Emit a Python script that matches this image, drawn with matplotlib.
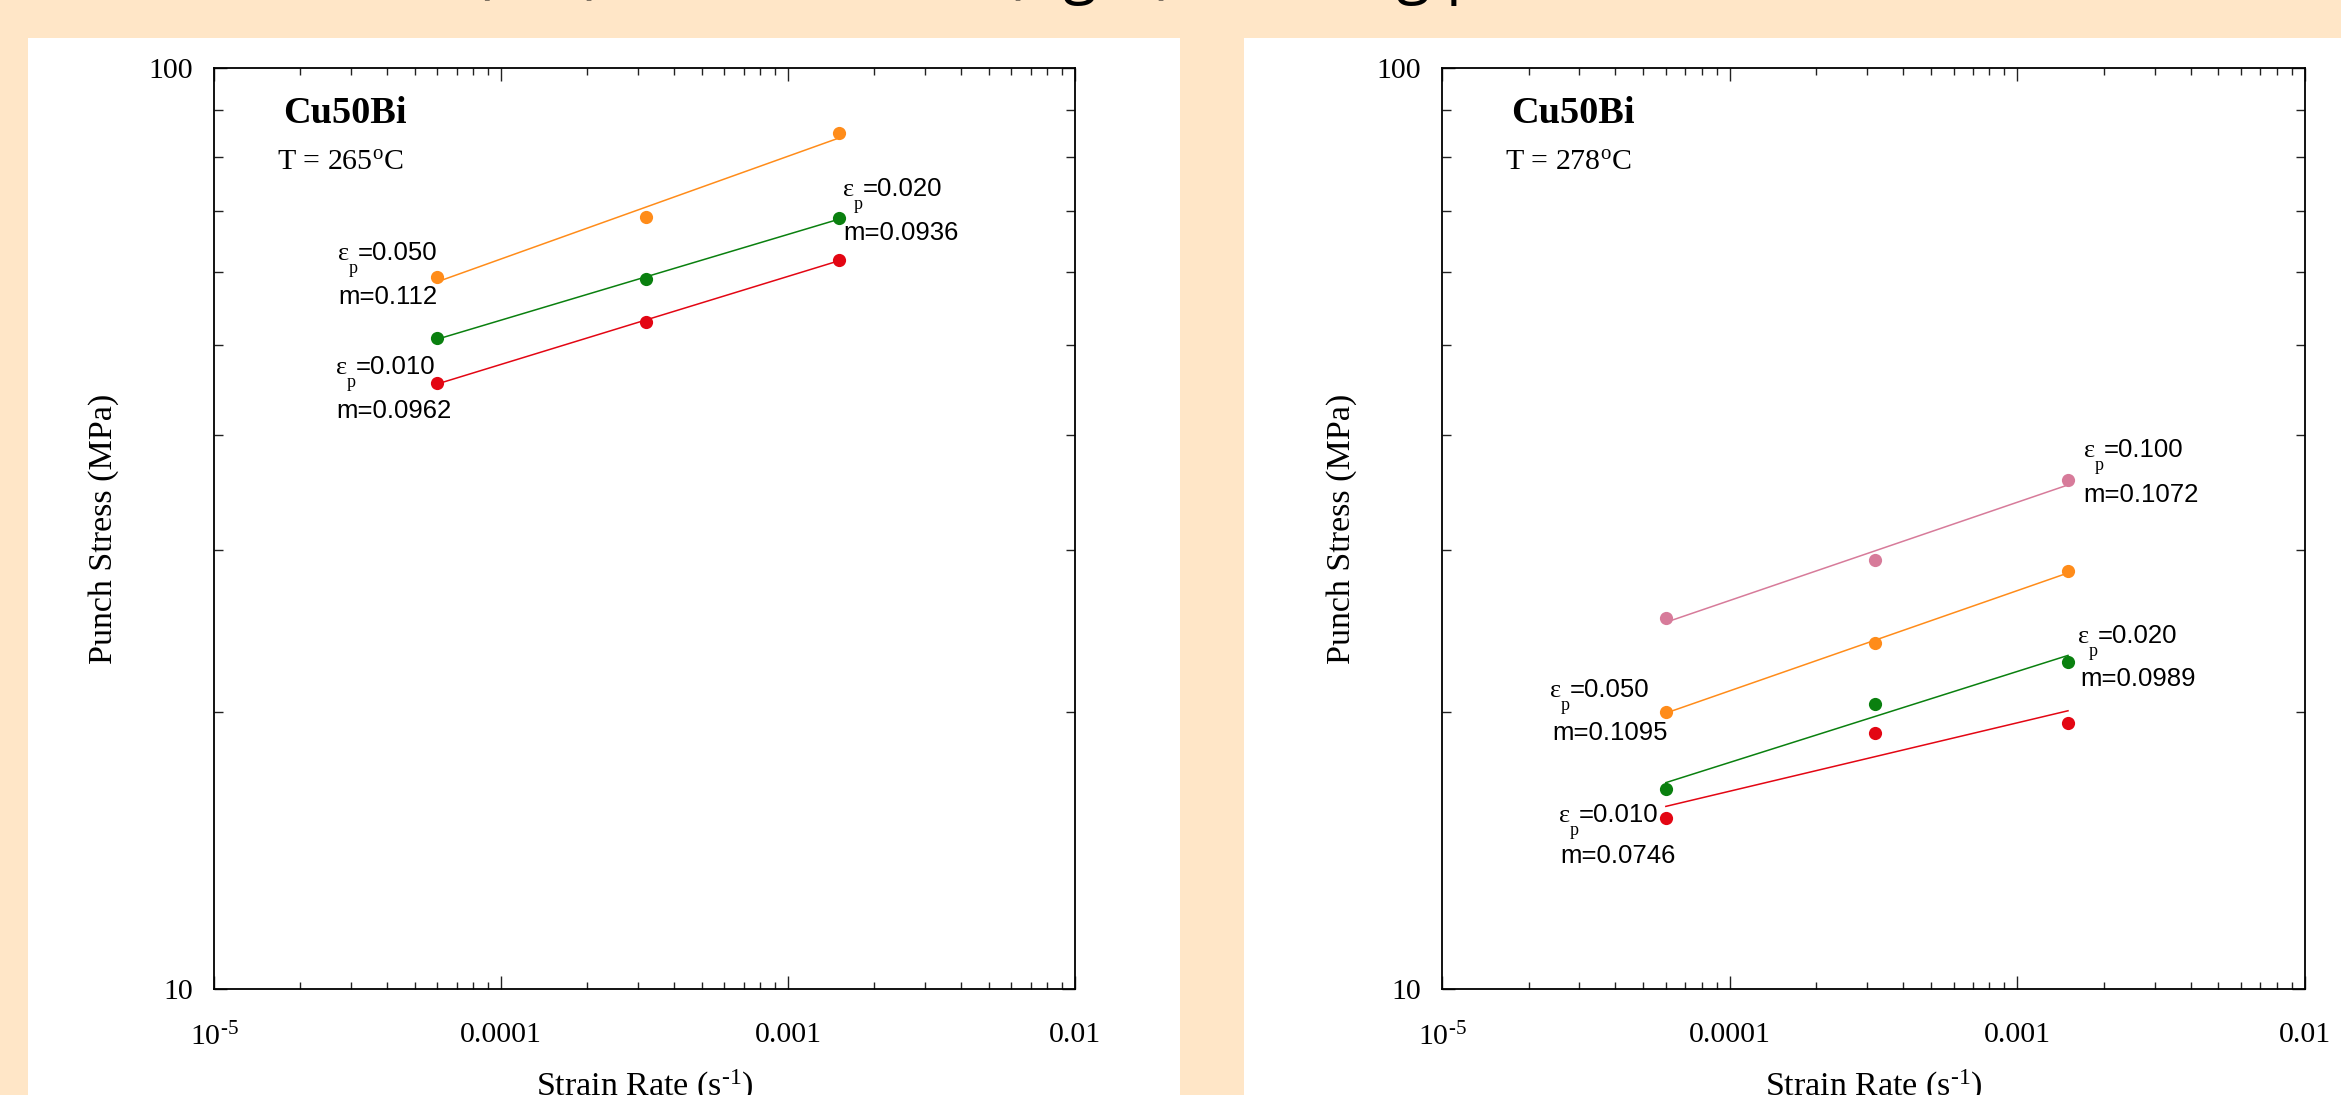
import numpy as np
import matplotlib
matplotlib.use("Agg")
import matplotlib.pyplot as plt
from matplotlib.patches import Rectangle
from matplotlib.ticker import FixedLocator, FixedFormatter, NullFormatter, LogLocator

plt.rcParams['mathtext.fontset'] = 'custom'
plt.rcParams['mathtext.rm'] = 'Liberation Serif'
plt.rcParams['mathtext.it'] = 'Liberation Serif:italic'
plt.rcParams['mathtext.bf'] = 'Liberation Serif:bold'

# ---------------- data ----------------
strain_rate = [6e-5, 3.2e-4, 1.5e-3]

# T = 265 C (left panel)
stress_265_eps050 = [59.3, 68.9, 85.0]
stress_265_eps020 = [50.9, 59.0, 68.7]
stress_265_eps010 = [45.5, 53.0, 61.9]

# T = 278 C (right panel)
stress_278_eps100 = [25.3, 29.2, 35.7]
stress_278_eps050 = [20.0, 23.75, 28.4]
stress_278_eps020 = [16.5, 20.4, 22.65]
stress_278_eps010 = [15.35, 18.95, 19.45]

eps_labels_265 = ['0.050', '0.010', '0.020']
m_labels_265 = ['0.112', '0.0962', '0.0936']
eps_labels_278 = ['0.100', '0.020', '0.050', '0.010']
m_labels_278 = ['0.1072', '0.0989', '0.1095', '0.0746']

x_tick_values = [1e-5, 1e-4, 1e-3, 1e-2]
x_tick_labels = [r'$\mathrm{10^{\text{-}5}}$', '0.0001', '0.001', '0.01']
y_tick_values = [10, 100]
y_tick_labels = ['10', '100']

title_text = 'Cu50Bi at 265°C (left) and at 278°C (right) showing punch stress'

# ---------------- style ----------------
W, H = 2341, 1095
BG = '#FFE6C7'
ORANGE = '#FF8C1A'
GREEN = '#0A800F'
RED = '#E30613'
PINK = '#D77B9A'
SERIF = 'Liberation Serif'
SANS = 'Liberation Sans'

def fx(x):
    return x / W

def fy(y):
    return 1 - y / H

fig = plt.figure(figsize=(W / 100, H / 100), dpi=100, facecolor=BG)

# white panels (behind axes)
fig.patches.append(Rectangle((fx(28), 0), fx(1180) - fx(28), fy(38), transform=fig.transFigure,
                             facecolor='white', edgecolor='none', zorder=-5))
fig.patches.append(Rectangle((fx(1244), 0), 1 - fx(1244), fy(38), transform=fig.transFigure,
                             facecolor='white', edgecolor='none', zorder=-5))

# clipped title
fig.text(fx(-5), 1 + 9 / H, title_text, family='Open Sans', fontsize=44.5, va='baseline',
         ha='left', color='black')


def make_axes(left_px, right_px):
    ax = fig.add_axes([fx(left_px), fy(989), (right_px - left_px) / W, (989 - 68) / H])
    ax.set_facecolor('none')
    ax.set_xscale('log')
    ax.set_yscale('log')
    ax.set_xlim(1e-5, 1e-2)
    ax.set_ylim(10, 100)
    ax.xaxis.set_major_locator(FixedLocator(x_tick_values))
    ax.xaxis.set_major_formatter(FixedFormatter(x_tick_labels))
    ax.xaxis.set_minor_locator(LogLocator(base=10, subs=np.arange(2, 10)))
    ax.xaxis.set_minor_formatter(NullFormatter())
    ax.yaxis.set_major_locator(FixedLocator(y_tick_values))
    ax.yaxis.set_major_formatter(FixedFormatter(y_tick_labels))
    ax.yaxis.set_minor_locator(LogLocator(base=10, subs=np.arange(2, 10)))
    ax.yaxis.set_minor_formatter(NullFormatter())
    ax.tick_params(which='both', direction='in', top=True, right=True, width=1.0, color='#222222')
    ax.tick_params(which='major', length=9.5)
    ax.tick_params(which='minor', length=5)
    ax.tick_params(axis='y', which='minor', length=6.5)
    ax.tick_params(axis='x', which='major', pad=24, labelsize=21.5)
    ax.tick_params(axis='y', which='major', pad=15, labelsize=21.5)
    for lab in ax.get_xticklabels() + ax.get_yticklabels():
        lab.set_family(SERIF)
    for s in ax.spines.values():
        s.set_linewidth(1.3)
    ax.set_xlabel(r'Strain Rate (s$^{\mathrm{\text{-}1}}$)', family=SERIF, fontsize=24.5)
    ax.set_ylabel('Punch Stress (MPa)', family=SERIF, fontsize=24.5)
    ax.xaxis.set_label_coords(0.5, -0.086)
    ax.yaxis.set_label_coords(-0.11, 0.5)
    return ax


def plot_series(ax, y, color):
    lx = np.log10(strain_rate)
    ly = np.log10(y)
    slope, icpt = np.polyfit(lx, ly, 1)
    xf = np.array([strain_rate[0], strain_rate[-1]])
    ax.plot(xf, 10 ** (icpt + slope * np.log10(xf)), '-', color=color, lw=1.1, zorder=2)
    ax.plot(strain_rate, y, 'o', color=color, ms=9.5, mec='none', zorder=3)


def eps_label(X, B, eps, m, mdx=0, mdy=44):
    fig.text(fx(X), fy(B), 'ε', family=SERIF, fontsize=19, va='baseline', ha='left')
    fig.text(fx(X + 11), fy(B + 13), 'p', family=SERIF, fontsize=13, va='baseline', ha='left')
    fig.text(fx(X + 20), fy(B), '=' + eps, family=SANS, fontsize=18.5, va='baseline', ha='left')
    fig.text(fx(X + mdx), fy(B + mdy), 'm=' + m, family=SANS, fontsize=18.5, va='baseline', ha='left')


def header(ax, temp):
    ax.text(0.08, (989 - 123) / 921, 'Cu50Bi', transform=ax.transAxes, family=SERIF,
            fontweight='bold', fontsize=27.5, va='baseline', ha='left')
    ax.text(0.073, (989 - 170) / 921, 'T = ' + temp + r'$^{\mathrm{o}}$C', transform=ax.transAxes,
            family=SERIF, fontsize=21.5, va='baseline', ha='left')


# ---------------- left panel ----------------
axL = make_axes(214, 1075)
plot_series(axL, stress_265_eps050, ORANGE)
plot_series(axL, stress_265_eps020, GREEN)
plot_series(axL, stress_265_eps010, RED)
header(axL, '265')
eps_label(338, 260, eps_labels_265[0], m_labels_265[0])
eps_label(336, 374, eps_labels_265[1], m_labels_265[1])
eps_label(843, 196, eps_labels_265[2], m_labels_265[2])

# ---------------- right panel ----------------
axR = make_axes(1442, 2305)
plot_series(axR, stress_278_eps100, PINK)
plot_series(axR, stress_278_eps050, ORANGE)
plot_series(axR, stress_278_eps020, GREEN)
plot_series(axR, stress_278_eps010, RED)
header(axR, '278')
axR.yaxis.set_label_coords(-0.098, 0.5)
eps_label(2084, 457, eps_labels_278[0], m_labels_278[0], mdx=-1, mdy=45)
eps_label(2078, 643, eps_labels_278[1], m_labels_278[1], mdx=2, mdy=43)
eps_label(1550, 697, eps_labels_278[2], m_labels_278[2], mdx=2, mdy=43)
eps_label(1559, 822, eps_labels_278[3], m_labels_278[3], mdx=1, mdy=41)

fig.savefig('out.png', dpi=100, facecolor=BG)
